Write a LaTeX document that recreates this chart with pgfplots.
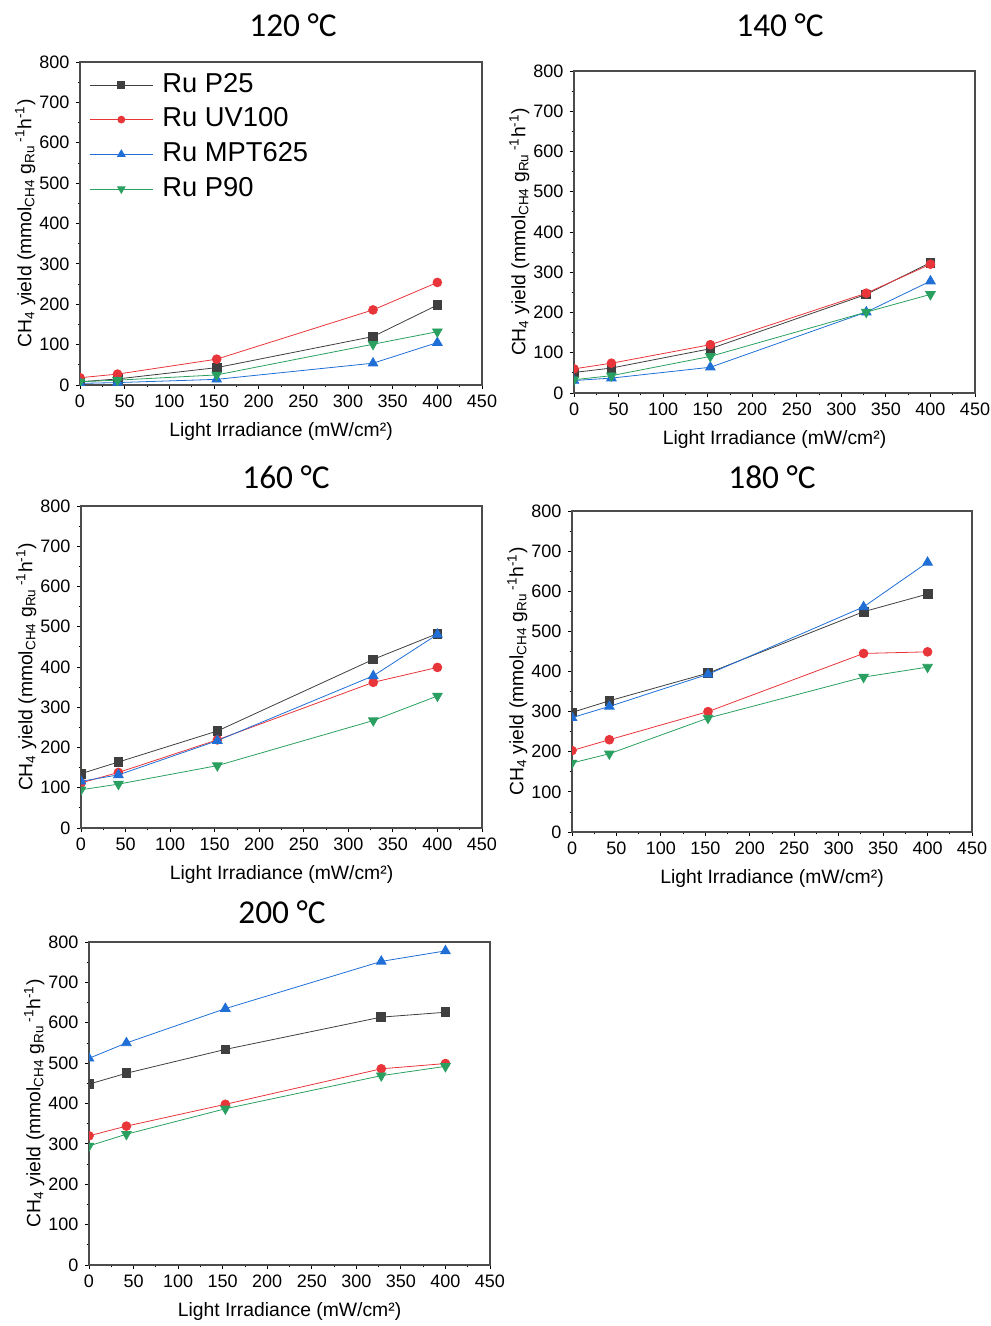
\documentclass[border=0pt]{standalone}
\usepackage{pgfplots}
\pgfplotsset{compat=1.18}
\usepackage{fontspec}
\setmainfont{Liberation Sans}
\newfontfamily\titlefont{Carlito}
\definecolor{cP}{HTML}{3F3F3F}
\definecolor{cU}{HTML}{E8353A}
\definecolor{cM}{HTML}{1F6FD6}
\definecolor{cN}{HTML}{2AA060}
\pgfplotsset{
  panel/.style={
    scale only axis,
    anchor=south west,
    xmin=0, xmax=450, ymin=0, ymax=800,
    xtick={0,50,...,450}, ytick={0,100,...,800},
    minor x tick num=1, minor y tick num=1,
    tick pos=left, tick align=outside,
    major tick length=3pt, minor tick length=1.8pt,
    every tick/.style={black, line width=0.6pt},
    axis line style={line width=0.8pt, black!70},
    tick label style={font=\fontsize{13.5}{15}\selectfont},
    yticklabel style={xshift=-1.5pt},
    xticklabel style={yshift=-1pt},
    /pgf/number format/assume math mode=true,
    clip marker paths=true,
    xlabel={Light Irradiance (mW/cm²)},
    ylabel={CH\textsubscript{4} yield (mmol\textsubscript{CH4} g\textsubscript{Ru}\,\textsuperscript{-1}h\textsuperscript{-1})},
    label style={font=\fontsize{14.5}{16}\selectfont},
    xlabel style={at={(axis description cs:0.5,0)}, anchor=center, yshift=-35pt},
    ylabel style={at={(axis description cs:0,0.5)}, anchor=center, yshift=41pt},
    every axis plot/.append style={line width=0.6pt, mark size=3.3pt},
  },
  sP/.style={cP, mark=square*, mark options={fill=cP, draw=cP}},
  sU/.style={cU, mark=*, mark options={fill=cU, draw=cU}},
  sM/.style={cM, mark=triangle*, mark options={fill=cM, draw=cM, scale=1.25}},
  sN/.style={cN, mark=triangle*, mark options={fill=cN, draw=cN, rotate=180, scale=1.25}},
}
\begin{document}
\begin{tikzpicture}
\useasboundingbox (0pt,0pt) rectangle (742.5pt,-994.5pt);
% Titles
\node[font=\titlefont\fontsize{25}{28}\selectfont] at (219.75pt,-18.75pt) {120 °C};
\node[font=\titlefont\fontsize{25}{28}\selectfont] at (585pt,-18.75pt) {140 °C};
\node[font=\titlefont\fontsize{25}{28}\selectfont] at (214.5pt,-357.75pt) {160 °C};
\node[font=\titlefont\fontsize{25}{28}\selectfont] at (579pt,-357.75pt) {180 °C};
\node[font=\titlefont\fontsize{25}{28}\selectfont] at (211.5pt,-684pt) {200 °C};

% Panel 1: 120 C
\begin{axis}[panel, at={(60pt,-288.75pt)}, width=301.5pt, height=242.25pt,
  legend style={at={(axis description cs:0,1)}, anchor=north west, draw=none, fill=none,
    font=\fontsize{20.5}{22}\selectfont, row sep=5pt, xshift=4pt, yshift=-4.5pt,
    nodes={inner sep=1pt, text height=15pt, text depth=4pt},
    /tikz/every odd column/.append style={column sep=6pt}},
  legend cell align=left,
  legend image code/.code={\draw[mark repeat=2, mark phase=2, #1, mark size=2.6pt] plot coordinates {(0pt,0pt) (23.5pt,0pt) (47pt,0pt)};},
]
\addplot[sP] coordinates {(0,8) (42,15) (153,43) (328,120) (400,198)};
\addplot[sU] coordinates {(0,18) (42,27) (153,64) (328,186) (400,254)};
\addplot[sM] coordinates {(0,4) (42,6) (153,14) (328,54) (400,105)};
\addplot[sN] coordinates {(0,8) (42,12) (153,25) (328,101) (400,132)};
\legend{Ru P25, Ru UV100, Ru MPT625, Ru P90}
\end{axis}

% Panel 2: 140 C
\begin{axis}[panel, at={(430.5pt,-294.75pt)}, width=300.75pt, height=241.5pt]
\addplot[sP] coordinates {(0,51) (42,62) (153,110) (328,245) (400,324)};
\addplot[sU] coordinates {(0,60) (42,74) (153,120) (328,248) (400,320)};
\addplot[sM] coordinates {(0,31) (42,37) (153,64) (328,201) (400,278)};
\addplot[sN] coordinates {(0,33) (42,43) (153,91) (328,201) (400,245)};
\end{axis}

% Panel 3: 160 C
\begin{axis}[panel, at={(60.75pt,-621pt)}, width=300.75pt, height=241.5pt]
\addplot[sP] coordinates {(0,135) (42,164) (153,241) (328,419) (400,483)};
\addplot[sU] coordinates {(0,112) (42,138) (153,219) (328,362) (400,399)};
\addplot[sM] coordinates {(0,116) (42,132) (153,217) (328,378) (400,481)};
\addplot[sN] coordinates {(0,95) (42,109) (153,155) (328,267) (400,328)};
\end{axis}

% Panel 4: 180 C
\begin{axis}[panel, at={(429pt,-624pt)}, width=300pt, height=240.75pt]
\addplot[sP] coordinates {(0,298) (42,327) (153,396) (328,549) (400,593)};
\addplot[sU] coordinates {(0,203) (42,230) (153,300) (328,445) (400,449)};
\addplot[sM] coordinates {(0,285) (42,313) (153,393) (328,561) (400,672)};
\addplot[sN] coordinates {(0,172) (42,195) (153,284) (328,386) (400,411)};
\end{axis}

% Panel 5: 200 C
\begin{axis}[panel, at={(66.75pt,-948.75pt)}, width=300.75pt, height=242.25pt]
\addplot[sP] coordinates {(0,448) (42,475) (153,534) (328,614) (400,626)};
\addplot[sU] coordinates {(0,320) (42,344) (153,398) (328,486) (400,499)};
\addplot[sM] coordinates {(0,512) (42,550) (153,635) (328,752) (400,778)};
\addplot[sN] coordinates {(0,295) (42,324) (153,387) (328,469) (400,492)};
\end{axis}
\end{tikzpicture}
\end{document}
